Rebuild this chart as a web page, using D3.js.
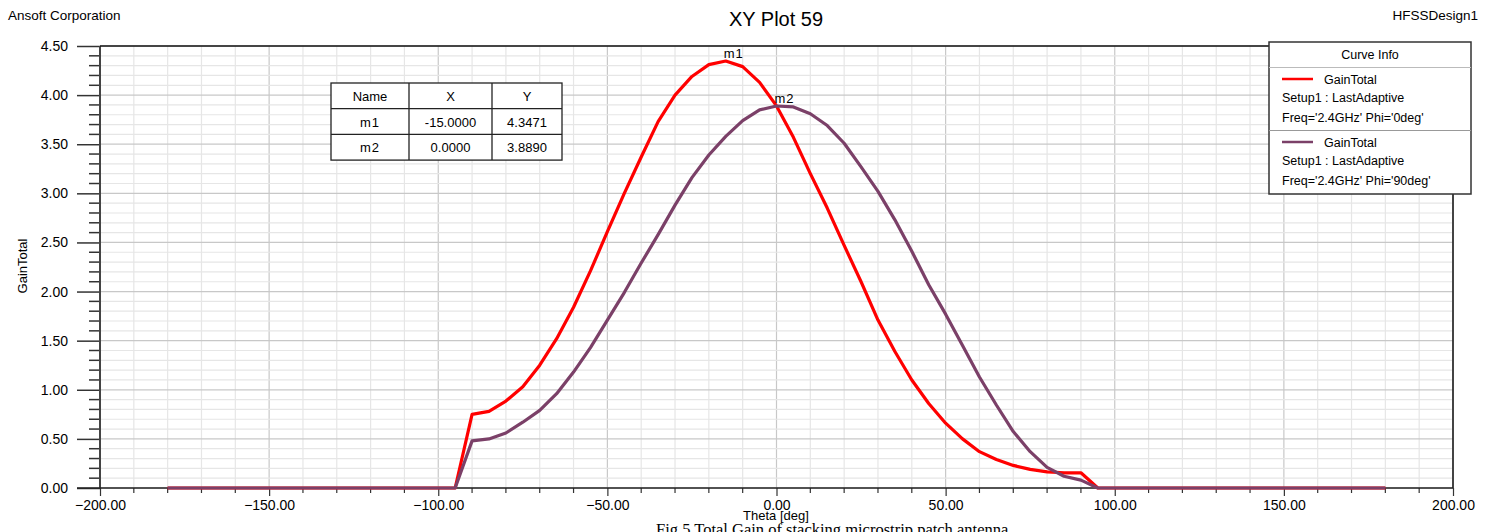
<!DOCTYPE html>
<html>
<head>
<meta charset="utf-8">
<script src="https://cdn.jsdelivr.net/npm/d3@7"></script>
<style>
  html, body { margin: 0; padding: 0; background: #fff; }
  svg { display: block; font-family: "Liberation Sans", Arial, sans-serif; }
</style>
</head>
<body>
<svg id="chart" width="1494" height="532"></svg>
<script>
// ============ 数据 ============
const theta = [
  -180, -175, -170, -165, -160, -155, -150, -145, -140, -135, -130, -125, -120, -115, -110, -105, -100, -95,
  -90, -85, -80, -75, -70, -65, -60, -55, -50, -45, -40, -35, -30, -25, -20, -15, -10, -5,
  0, 5, 10, 15, 20, 25, 30, 35, 40, 45, 50, 55, 60, 65, 70, 75, 80, 85, 90,
  95, 100, 105, 110, 115, 120, 125, 130, 135, 140, 145, 150, 155, 160, 165, 170, 175, 180
];

// GainTotal, Phi='0deg'
const gainPhi0 = [
  0, 0, 0, 0, 0, 0, 0, 0, 0, 0, 0, 0, 0, 0, 0, 0, 0, 0,
  0.75, 0.78, 0.885, 1.03, 1.25, 1.52, 1.84, 2.21, 2.61, 3.0, 3.37, 3.73, 4.0, 4.19, 4.31, 4.3471, 4.29, 4.13,
  3.89, 3.57, 3.2, 2.85, 2.47, 2.1, 1.71, 1.39, 1.10, 0.86, 0.66, 0.50, 0.37, 0.29, 0.23, 0.19, 0.165, 0.155, 0.155,
  0, 0, 0, 0, 0, 0, 0, 0, 0, 0, 0, 0, 0, 0, 0, 0, 0, 0
];

// GainTotal, Phi='90deg'
const gainPhi90 = [
  0, 0, 0, 0, 0, 0, 0, 0, 0, 0, 0, 0, 0, 0, 0, 0, 0, 0,
  0.48, 0.50, 0.56, 0.67, 0.79, 0.96, 1.18, 1.43, 1.71, 1.99, 2.29, 2.58, 2.88, 3.16, 3.39, 3.58, 3.74, 3.85,
  3.889, 3.88, 3.81, 3.69, 3.51, 3.27, 3.02, 2.73, 2.41, 2.07, 1.77, 1.45, 1.13, 0.845, 0.575, 0.37, 0.21, 0.12, 0.08,
  0, 0, 0, 0, 0, 0, 0, 0, 0, 0, 0, 0, 0, 0, 0, 0, 0, 0
];

const markerNames = ['m1', 'm2'];
const markerX = [-15, 0];
const markerY = [4.3471, 3.8890];

const legendLines = [
  ['GainTotal', 'Setup1 : LastAdaptive', "Freq='2.4GHz' Phi='0deg'"],
  ['GainTotal', 'Setup1 : LastAdaptive', "Freq='2.4GHz' Phi='90deg'"]
];
const curveColors = ['#ff0000', '#7b4068'];

// ============ 布局 ============
const plot = { left: 100, right: 1453, top: 46, bottom: 488 };

const svg = d3.select('#chart');

const x = d3.scaleLinear().domain([-200, 200]).range([plot.left, plot.right]);
const y = d3.scaleLinear().domain([0, 4.5]).range([plot.bottom, plot.top]);

// 网格线
const g = svg.append('g');
const xMinor = d3.range(-200, 201, 10);
const yMinor = d3.range(0, 46, 1).map(d => d / 10);

g.selectAll('.vgrid').data(xMinor).enter().append('line')
  .attr('x1', d => x(d)).attr('x2', d => x(d))
  .attr('y1', plot.top).attr('y2', plot.bottom)
  .style('stroke', d => d % 50 === 0 ? '#c8c8c8' : '#e6e6e6')
  .style('stroke-width', 1.2);

g.selectAll('.hgrid').data(yMinor).enter().append('line')
  .attr('x1', plot.left).attr('x2', plot.right)
  .attr('y1', d => y(d)).attr('y2', d => y(d))
  .style('stroke', d => Math.round(d * 10) % 5 === 0 ? '#c8c8c8' : '#e6e6e6')
  .style('stroke-width', 1.2);

// 坐标轴
const yAxis = d3.axisLeft(y).tickValues(d3.range(0, 10).map(d => d * 0.5))
  .tickFormat(d3.format('.2f')).tickSize(23).tickPadding(9);
const yAxisG = svg.append('g').attr('transform', `translate(${plot.left},0)`).call(yAxis);
yAxisG.select('.domain').remove();
yAxisG.selectAll('line').style('stroke', '#333').style('stroke-width', 1.5);
yAxisG.selectAll('text').style('font-size', '14px').style('fill', '#000')
  .style('font-family', '"Liberation Sans", Arial, sans-serif');

// y 次刻度
svg.append('g').selectAll('line').data(yMinor.filter(d => Math.round(d * 10) % 5 !== 0)).enter()
  .append('line')
  .attr('x1', plot.left - 11).attr('x2', plot.left)
  .attr('y1', d => y(d)).attr('y2', d => y(d))
  .style('stroke', '#333').style('stroke-width', 1.5);

const xAxis = d3.axisBottom(x).tickValues(d3.range(-200, 201, 50))
  .tickFormat(d3.format('.2f')).tickSize(8).tickPadding(4);
const xAxisG = svg.append('g').attr('transform', `translate(0,${plot.bottom})`).call(xAxis);
xAxisG.select('.domain').remove();
xAxisG.selectAll('line').style('stroke', '#333').style('stroke-width', 1.2);
xAxisG.selectAll('text').style('font-size', '14px').style('fill', '#000')
  .style('font-family', '"Liberation Sans", Arial, sans-serif');

// x 次刻度
svg.append('g').selectAll('line').data(xMinor.filter(d => d % 50 !== 0)).enter()
  .append('line')
  .attr('x1', d => x(d)).attr('x2', d => x(d))
  .attr('y1', plot.bottom).attr('y2', plot.bottom + 5)
  .style('stroke', '#333').style('stroke-width', 1.2);

// 边框
svg.append('line').attr('x1', plot.left).attr('x2', plot.left)
  .attr('y1', plot.top).attr('y2', plot.bottom)
  .style('stroke', '#444').style('stroke-width', 2);
svg.append('line').attr('x1', plot.left).attr('x2', plot.right)
  .attr('y1', plot.top).attr('y2', plot.top)
  .style('stroke', '#111').style('stroke-width', 1.5);
svg.append('line').attr('x1', plot.right).attr('x2', plot.right)
  .attr('y1', plot.top).attr('y2', plot.bottom)
  .style('stroke', '#111').style('stroke-width', 1.5);
svg.append('line').attr('x1', plot.left - 23).attr('x2', plot.right)
  .attr('y1', plot.bottom).attr('y2', plot.bottom)
  .style('stroke', '#222').style('stroke-width', 1.5);

// 曲线
const line = d3.line()
  .x(d => x(d[0]))
  .y(d => y(d[1]));

[gainPhi0, gainPhi90].forEach((series, i) => {
  svg.append('path')
    .datum(theta.map((t, j) => [t, series[j]]))
    .attr('d', line)
    .style('fill', 'none')
    .style('stroke', curveColors[i])
    .style('stroke-width', 3.2)
    .style('stroke-linejoin', 'round');
});

// 标记点标签
markerNames.forEach((name, i) => {
  svg.append('text')
    .attr('x', x(markerX[i]) - 2)
    .attr('y', y(markerY[i]) - 3)
    .style('font-size', '13px')
    .style('letter-spacing', '1px')
    .text(name);
});

// 标记表格
const table = { x: 331, y: 83, colW: [78, 83, 70], rowH: 25.7 };
const tableRows = [['Name', 'X', 'Y']].concat(markerNames.map((n, i) =>
  [n, markerX[i].toFixed(4), markerY[i].toFixed(4)]));
const tW = d3.sum(table.colW);
const tg = svg.append('g');
tg.append('rect')
  .attr('x', table.x).attr('y', table.y)
  .attr('width', tW).attr('height', table.rowH * tableRows.length)
  .style('fill', '#fff').style('stroke', '#222').style('stroke-width', 1.3);
tableRows.forEach((row, r) => {
  if (r > 0) {
    tg.append('line')
      .attr('x1', table.x).attr('x2', table.x + tW)
      .attr('y1', table.y + r * table.rowH).attr('y2', table.y + r * table.rowH)
      .style('stroke', '#222').style('stroke-width', 1.3);
  }
  let cx = table.x;
  row.forEach((cell, c) => {
    if (r === 0 && c > 0) {
      tg.append('line')
        .attr('x1', cx).attr('x2', cx)
        .attr('y1', table.y).attr('y2', table.y + table.rowH * tableRows.length)
        .style('stroke', '#222').style('stroke-width', 1.3);
    }
    tg.append('text')
      .attr('x', cx + table.colW[c] / 2)
      .attr('y', table.y + r * table.rowH + table.rowH / 2 + 5)
      .attr('text-anchor', 'middle')
      .style('font-size', '13px')
      .style('letter-spacing', r > 0 && c === 0 ? '1px' : '0px')
      .text(cell);
    cx += table.colW[c];
  });
});

// 图例 (Curve Info)
const lg = svg.append('g');
const legend = { x: 1269, y: 42, w: 202, h: 152 };
lg.append('rect')
  .attr('x', legend.x).attr('y', legend.y)
  .attr('width', legend.w).attr('height', legend.h)
  .style('fill', '#fff').style('stroke', '#333').style('stroke-width', 1.5);
lg.append('text')
  .attr('x', legend.x + legend.w / 2).attr('y', 59)
  .attr('text-anchor', 'middle')
  .style('font-size', '12.5px')
  .text('Curve Info');
lg.append('line')
  .attr('x1', legend.x).attr('x2', legend.x + legend.w)
  .attr('y1', 67.5).attr('y2', 67.5)
  .style('stroke', '#bbb').style('stroke-width', 1);
lg.append('line')
  .attr('x1', legend.x).attr('x2', legend.x + legend.w)
  .attr('y1', 130.5).attr('y2', 130.5)
  .style('stroke', '#999').style('stroke-width', 1);

legendLines.forEach((lines, i) => {
  const top = 67.5 + i * 63;
  lg.append('line')
    .attr('x1', 1282).attr('x2', 1313)
    .attr('y1', top + 11.5).attr('y2', top + 11.5)
    .style('stroke', curveColors[i]).style('stroke-width', 2.5);
  lg.append('text')
    .attr('x', 1324).attr('y', top + 16)
    .style('font-size', '12.5px')
    .text(lines[0]);
  lg.append('text')
    .attr('x', 1282).attr('y', top + 34.5)
    .style('font-size', '12.5px')
    .text(lines[1]);
  lg.append('text')
    .attr('x', 1282).attr('y', top + 54)
    .style('font-size', '12.5px')
    .text(lines[2]);
});

// 标题与文字
svg.append('text')
  .attr('x', 776).attr('y', 26)
  .attr('text-anchor', 'middle')
  .style('font-size', '20px')
  .text('XY Plot 59');
svg.append('text')
  .attr('x', 8).attr('y', 20)
  .style('font-size', '13.5px')
  .text('Ansoft Corporation');
svg.append('text')
  .attr('x', 1478).attr('y', 20)
  .attr('text-anchor', 'end')
  .style('font-size', '13.5px')
  .text('HFSSDesign1');

svg.append('text')
  .attr('x', 776).attr('y', 520)
  .attr('text-anchor', 'middle')
  .style('font-size', '13px')
  .text('Theta [deg]');
svg.append('text')
  .attr('transform', 'translate(27,266) rotate(-90)')
  .attr('text-anchor', 'middle')
  .style('font-size', '13px')
  .text('GainTotal');

// 图注（底部被截断）
svg.append('text')
  .attr('x', 656).attr('y', 535)
  .style('font-family', '"Liberation Serif", "Times New Roman", serif')
  .style('font-size', '16.5px')
  .text('Fig.5 Total Gain of stacking microstrip patch antenna');
</script>
</body>
</html>
